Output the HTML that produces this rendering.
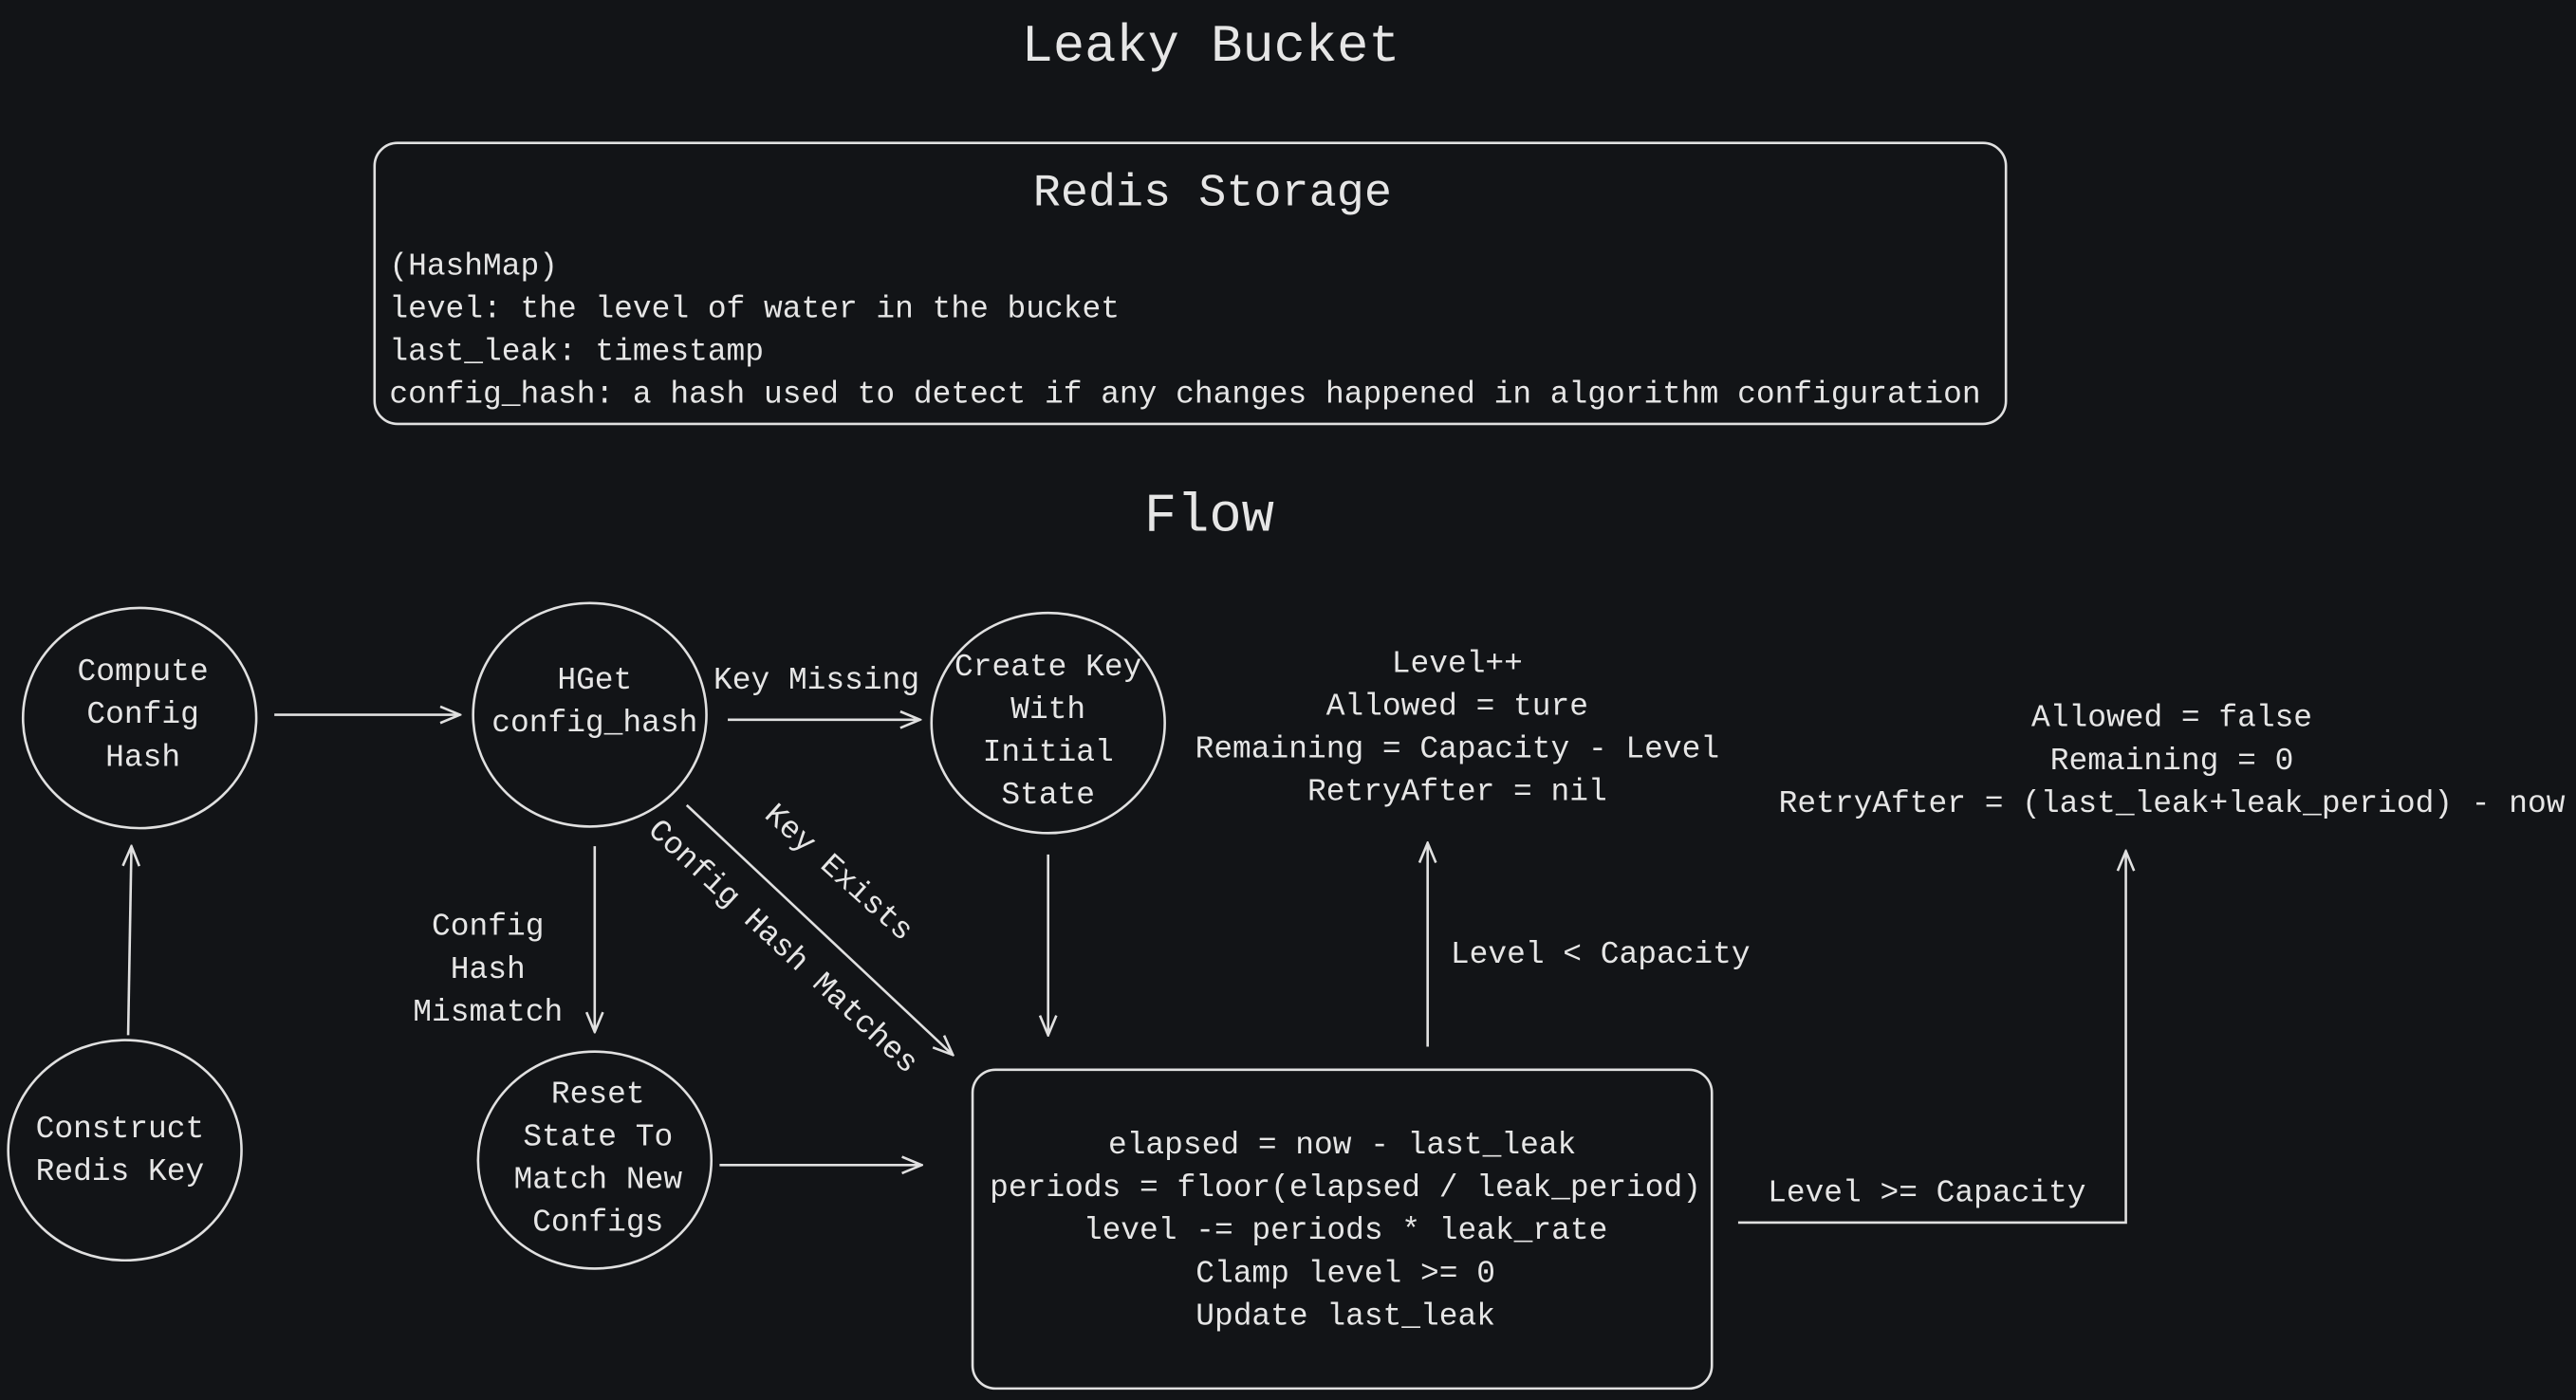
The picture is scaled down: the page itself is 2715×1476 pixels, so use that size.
<!DOCTYPE html>
<html><head><meta charset="utf-8">
<style>
html,body{margin:0;padding:0;background:#121417;}
svg{display:block;}
text{font-family:"Liberation Mono",monospace;fill:#e6e6e6;}
</style></head>
<body>
<svg width="2715" height="1476" viewBox="0 0 1568 852" preserveAspectRatio="none" xmlns="http://www.w3.org/2000/svg">
<defs>
<marker id="a" markerWidth="14" markerHeight="12" refX="13" refY="6" orient="auto" markerUnits="userSpaceOnUse">
<path d="M1,1 L13,6 L1,11" fill="none" stroke="#e0e0e0" stroke-width="1.5"/>
</marker>
</defs>
<rect width="1568" height="852" fill="#121417"/>
<g fill="none" stroke="#e0e0e0" stroke-width="1.5">
<rect x="228" y="87" width="993" height="171" rx="14"/>
<rect x="592" y="651" width="450" height="194" rx="14"/>
<ellipse cx="85" cy="437" rx="71" ry="67"/>
<ellipse cx="359" cy="435" rx="71" ry="68"/>
<ellipse cx="638" cy="440" rx="71" ry="67"/>
<ellipse cx="76" cy="700" rx="71" ry="67"/>
<ellipse cx="362" cy="706" rx="71" ry="66"/>
<g marker-end="url(#a)">
<line x1="167" y1="435" x2="280" y2="435"/>
<line x1="443" y1="438" x2="560" y2="438"/>
<line x1="362" y1="515" x2="362" y2="628"/>
<line x1="418" y1="490" x2="580" y2="642"/>
<line x1="638" y1="520" x2="638" y2="630"/>
<line x1="438" y1="709" x2="561" y2="709"/>
<line x1="78" y1="630" x2="80" y2="515"/>
<line x1="869" y1="637" x2="869" y2="513"/>
<polyline points="1058,744 1294,744 1294,518"/>
</g>
</g>
<text x="737" y="37" font-size="32" text-anchor="middle">Leaky Bucket</text>
<text x="738" y="125" font-size="28" text-anchor="middle">Redis Storage</text>
<g font-size="19">
<text x="237" y="167">(HashMap)</text>
<text x="237" y="193">level: the level of water in the bucket</text>
<text x="237" y="219">last_leak: timestamp</text>
<text x="237" y="245">config_hash: a hash used to detect if any changes happened in algorithm configuration</text>
</g>
<text x="736" y="323" font-size="33" text-anchor="middle">Flow</text>
<g font-size="19" text-anchor="middle">
<text x="87" y="414">Compute</text><text x="87" y="440">Config</text><text x="87" y="466">Hash</text>
<text x="362" y="419">HGet</text><text x="362" y="445">config_hash</text>
<text x="638" y="411">Create Key</text><text x="638" y="437">With</text><text x="638" y="463">Initial</text><text x="638" y="489">State</text>
<text x="73" y="692">Construct</text><text x="73" y="718">Redis Key</text>
<text x="364" y="671">Reset</text><text x="364" y="697">State To</text><text x="364" y="723">Match New</text><text x="364" y="749">Configs</text>
<text x="497" y="419">Key Missing</text>
<text x="297" y="569">Config</text><text x="297" y="595">Hash</text><text x="297" y="621">Mismatch</text>
<text x="887" y="409">Level++</text><text x="887" y="435">Allowed = ture</text><text x="887" y="461">Remaining = Capacity - Level</text><text x="887" y="487">RetryAfter = nil</text>
<text x="1322" y="442">Allowed = false</text><text x="1322" y="468">Remaining = 0</text><text x="1322" y="494">RetryAfter = (last_leak+leak_period) - now</text>
<text x="817" y="702">elapsed = now - last_leak</text><text x="819" y="728">periods = floor(elapsed / leak_period)</text><text x="819" y="754">level -= periods * leak_rate</text><text x="819" y="780">Clamp level &gt;= 0</text><text x="819" y="806">Update last_leak</text>
<text transform="translate(507,535) rotate(42)">Key Exists</text>
<text transform="translate(473,580) rotate(43)">Config Hash Matches</text>
</g>
<g font-size="19">
<text x="883" y="586">Level &lt; Capacity</text>
<text x="1076" y="731">Level &gt;= Capacity</text>
</g>
</svg>
</body></html>
